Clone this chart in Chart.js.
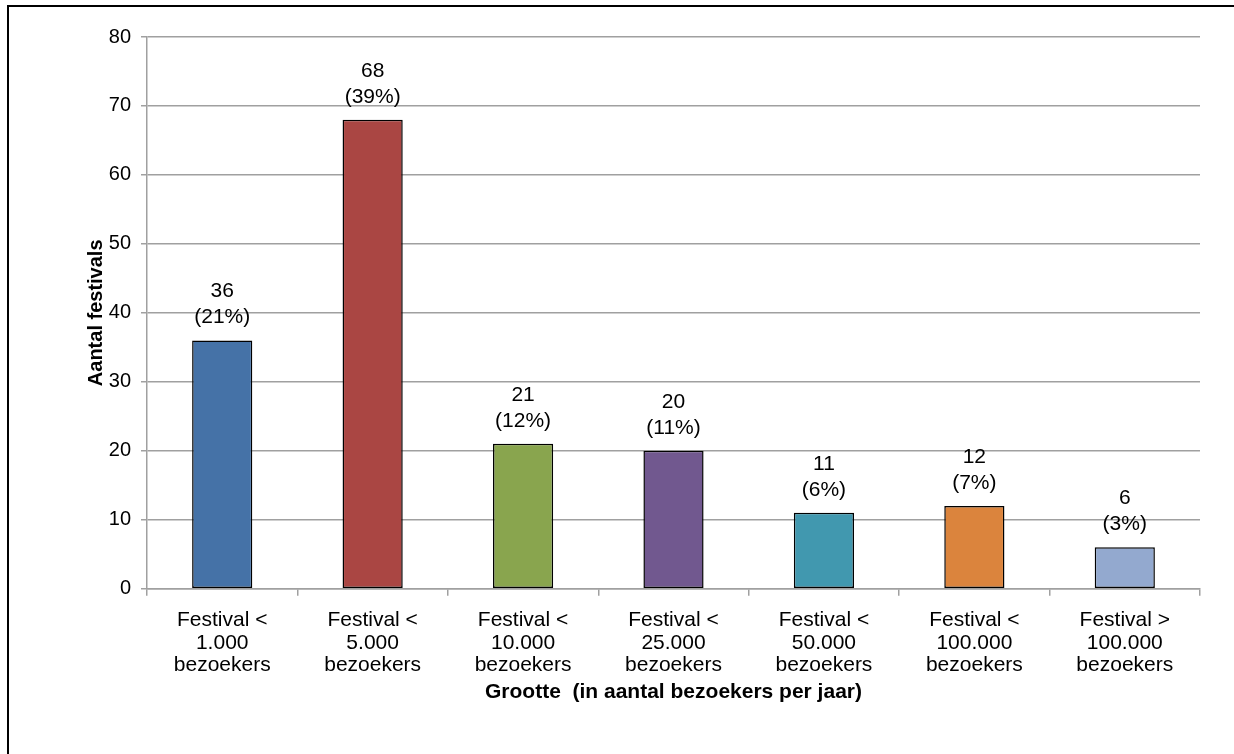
<!DOCTYPE html>
<html>
<head>
<meta charset="utf-8">
<script src="https://cdn.jsdelivr.net/npm/chart.js@4/dist/chart.umd.min.js"></script>
<style>
  html, body { margin: 0; padding: 0; background: #fff; overflow: hidden; }
  #wrap { position: relative; width: 1234px; height: 754px; overflow: hidden; }
  #frame { position: absolute; left: 7px; top: 5px; width: 1227px; height: 749px;
           border-left: 2px solid #000; border-top: 2px solid #000; box-sizing: border-box; }
  #chart { position: absolute; left: 0; top: 0; display: block; }
</style>
</head>
<body>
<div id="wrap">
  <div id="frame"></div>
  <canvas id="chart" width="1234" height="754"></canvas>
</div>
<script>
const categories = [
  ['Festival <', '1.000', 'bezoekers'],
  ['Festival <', '5.000', 'bezoekers'],
  ['Festival <', '10.000', 'bezoekers'],
  ['Festival <', '25.000', 'bezoekers'],
  ['Festival <', '50.000', 'bezoekers'],
  ['Festival <', '100.000', 'bezoekers'],
  ['Festival >', '100.000', 'bezoekers']
];
const festivals = [36, 68, 21, 20, 11, 12, 6];
const shares = ['21%', '39%', '12%', '11%', '6%', '7%', '3%'];
const barColors = ['#4572A7', '#AA4643', '#89A54E', '#71588F', '#4198AF', '#DB843D', '#93A9CF'];

const font = "'Liberation Sans', Arial, Helvetica, sans-serif";
const gridColor = '#a0a0a0';

// labels boven de balken: aantal + percentage
const barLabels = {
  id: 'barLabels',
  afterDatasetsDraw(chart) {
    const { ctx } = chart;
    const meta = chart.getDatasetMeta(0);
    ctx.save();
    ctx.fillStyle = '#000';
    ctx.font = '21px ' + font;
    ctx.textAlign = 'center';
    ctx.textBaseline = 'middle';
    meta.data.forEach((bar, i) => {
      ctx.fillText(String(festivals[i]), bar.x, bar.y - 49);
      ctx.fillText('(' + shares[i] + ')', bar.x, bar.y - 23);
    });
    ctx.restore();
  }
};

new Chart(document.getElementById('chart'), {
  type: 'bar',
  data: {
    labels: categories,
    datasets: [{
      data: festivals,
      backgroundColor: barColors,
      borderColor: '#000',
      borderWidth: 1.5,
      borderSkipped: false,
      categoryPercentage: 1,
      barPercentage: 0.4
    }]
  },
  options: {
    responsive: false,
    animation: false,
    layout: { padding: { top: 37, right: 34, left: 80, bottom: 45 } },
    plugins: {
      legend: { display: false },
      tooltip: { enabled: false }
    },
    scales: {
      y: {
        min: 0,
        max: 80,
        ticks: {
          stepSize: 10,
          color: '#000',
          padding: 10,
          font: { family: font, size: 20 }
        },
        grid: {
          color: gridColor,
          lineWidth: 1.5,
          tickLength: 6
        },
        border: { color: gridColor, width: 1.5 },
        title: {
          display: true,
          text: 'Aantal festivals',
          color: '#000',
          font: { family: font, size: 20, weight: 'bold' }
        },
        afterFit: (scale) => { scale.width = 67; }
      },
      x: {
        ticks: {
          color: '#000',
          padding: 14,
          font: { family: font, size: 21, lineHeight: 1.05 }
        },
        grid: {
          offset: true,
          drawOnChartArea: false,
          color: gridColor,
          lineWidth: 1.5,
          tickLength: 7
        },
        border: { color: gridColor, width: 1.5 },
        title: {
          display: true,
          text: 'Grootte  (in aantal bezoekers per jaar)',
          color: '#000',
          padding: { top: -10, bottom: 4 },
          font: { family: font, size: 21, weight: 'bold' }
        }
      }
    }
  },
  plugins: [barLabels]
});
</script>
</body>
</html>
